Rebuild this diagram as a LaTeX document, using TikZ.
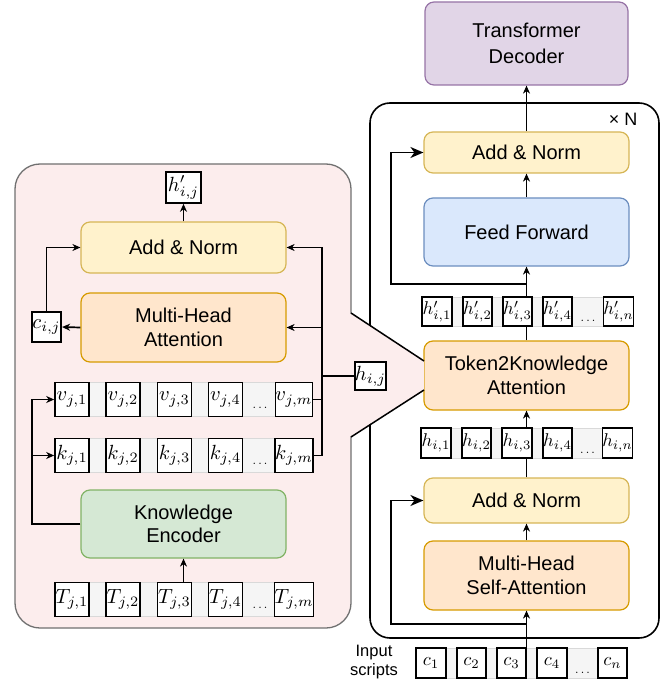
\documentclass[tikz,border=0pt]{standalone}
\usepackage{graphicx}
\usepackage[no-math]{fontspec}
\newfontfamily\arialf{Liberation Sans}
\usetikzlibrary{arrows.meta}
\definecolor{anFill}{HTML}{FFF2CC}\definecolor{anDraw}{HTML}{D6B656}
\definecolor{atFill}{HTML}{FFE6CC}\definecolor{atDraw}{HTML}{D79B00}
\definecolor{ffFill}{HTML}{DAE8FC}\definecolor{ffDraw}{HTML}{6C8EBF}
\definecolor{keFill}{HTML}{D5E8D4}\definecolor{keDraw}{HTML}{82B366}
\definecolor{tdFill}{HTML}{E1D5E7}\definecolor{tdDraw}{HTML}{9673A6}
\definecolor{pinkFill}{RGB}{252,237,237}
\definecolor{panelDraw}{HTML}{707070}
\newcommand\lab{\arialf\fontsize{20}{23.5}\selectfont}
\newcommand\rmc[1]{\scalebox{1.85}{$#1$}}
\newcommand\lmc[1]{\scalebox{2.05}{$#1$}}
\newcommand\dotsm{\scalebox{1.25}{$\ldots$}}
\tikzset{
  blk/.style={rounded corners=9pt, minimum width=205pt, inner sep=0pt, align=center, line width=1.2pt, font=\lab},
  addn/.style={blk, fill=anFill, draw=anDraw},
  attn/.style={blk, fill=atFill, draw=atDraw},
  ffbox/.style={blk, fill=ffFill, draw=ffDraw},
  kebox/.style={blk, fill=keFill, draw=keDraw},
  tdbox/.style={blk, fill=tdFill, draw=tdDraw, minimum width=203pt},
  rcell/.style={draw, fill=white, line width=1.6pt, inner sep=0pt, minimum width=29.5pt, minimum height=29.5pt, font=\normalsize},
  lcell/.style={draw, fill=white, line width=1.6pt, inner sep=0pt, minimum width=34pt, minimum height=34pt, font=\normalsize},
  strip/.style={fill=gray!8, draw=gray!30, line width=1pt},
  dotsnode/.style={inner sep=0pt, font=\normalsize},
  arr/.style={-{Stealth[length=8pt,width=7pt,inset=2.5pt]}, line width=1.7pt},
  bigarr/.style={-{Stealth[length=13pt,width=11pt,inset=4pt]}, line width=1.7pt},
  ln/.style={line width=1.7pt},
}
\begin{document}
\begin{tikzpicture}[x=1pt,y=-1pt]
\useasboundingbox (0,0) rectangle (670,684);

% ---------- right column ----------
\draw[line width=1.6pt, rounded corners=20pt] (370,103) rectangle (659,638);
\node[font=\arialf\fontsize{18}{18}\selectfont] (xN) at (623,119) {× N};

\node[tdbox, minimum height=83pt] (TD) at (526.5,43.5) {Transformer\\[2pt]Decoder};
\node[addn, minimum height=41pt] (rAN1) at (526.5,152.5) {Add \& Norm};
\node[ffbox, minimum height=68pt] (FF) at (526.5,232) {Feed Forward};
\node[attn, minimum height=69pt] (T2K) at (526.5,375.5) {Token2Knowledge\\Attention};
\node[addn, minimum height=45pt] (rAN2) at (526.5,500.5) {Add \& Norm};
\node[attn, minimum height=69pt] (MHSA) at (526.5,575.5) {Multi-Head\\Self-Attention};

\draw[arr] (T2K.north) -- (FF.south);
\draw[bigarr] (FF.south |- 0,284) -- (391,284) |- (rAN1.west);
\draw[arr] (FF.north) -- (rAN1.south);
\draw[arr] (rAN1.north) -- (TD.south);
\draw[arr] (rAN2.north) -- (T2K.south);
\draw[arr] (MHSA.north) -- (rAN2.south);
\draw[bigarr] (MHSA.south |- 0,624) -- (391,624) |- (rAN2.west);

% h' row
\draw[strip] (422,297) rectangle (633,326);
\foreach \i/\x in {1/437,2/477.5,3/517.5,4/557.5}{
  \node[rcell] (hp\i) at (\x,311.5) {\rmc{h'_{i,\i}}};
}
\node[rcell] (hpn) at (618.5,311.5) {\rmc{h'_{i,n}}};
\node[dotsnode] (hpd) at (588,321) {\dotsm};

% h row
\draw[strip] (421,428) rectangle (632,458);
\foreach \i/\x in {1/436,2/476.5,3/517,4/557.5}{
  \node[rcell] (h\i) at (\x,443) {\rmc{h_{i,\i}}};
}
\node[rcell] (hn) at (617.5,443) {\rmc{h_{i,n}}};
\node[dotsnode] (hd) at (587.5,453) {\dotsm};

% c row (input)
\draw[strip] (416,648) rectangle (627,678);
\foreach \i/\x in {1/431,2/471.5,3/511.5,4/552}{
  \node[rcell] (c\i) at (\x,663) {\rmc{c_{\i}}};
}
\node[rcell] (cn) at (612.5,663) {\rmc{c_{n}}};
\node[dotsnode] (cd) at (582.5,673) {\dotsm};
\draw[arr] (MHSA.south |- c3.north) -- (MHSA.south);
\node[align=center, font=\arialf\fontsize{16.5}{19}\selectfont] (inp) at (374,662) {Input\\scripts};

% ---------- left panel ----------
\draw[fill=pinkFill, draw=panelDraw, line width=1.3pt, rounded corners=25pt] (15,164) rectangle (351,628);
\fill[pinkFill] (349.5,313) -- (424,361) -- (424,390) -- (349.5,437) -- cycle;
\draw[line width=1.5pt] (351,313) -- (424,361);
\draw[line width=1.5pt] (351,437) -- (424,390);

\node[addn, minimum height=51pt] (lAN) at (183.5,247.5) {Add \& Norm};
\node[attn, minimum height=69pt] (lMHA) at (183.5,327.5) {Multi-Head\\Attention};
\node[kebox, minimum height=68pt] (KE) at (183.5,524) {Knowledge\\Encoder};

\node[rcell, minimum width=35pt, minimum height=31pt] (hpij) at (183.5,187.5) {\lmc{h'_{i,j}}};
\node[rcell] (cij) at (46.5,327) {\lmc{c_{i,j}}};
\node[rcell, minimum height=28.5pt] (hij) at (370.5,376) {\lmc{h_{i,j}}};

% v row
\draw[strip] (55,382.5) rectangle (311,416.5);
\foreach \i/\x in {1/72,2/123,3/174.5,4/225.5}{
  \node[lcell] (v\i) at (\x,399.5) {\lmc{v_{j,\i}}};
}
\node[lcell] (vm) at (294,399.5) {\lmc{v_{j,m}}};
\node[dotsnode] (vd) at (260,408) {\dotsm};
% k row
\draw[strip] (55,438.5) rectangle (311,472.5);
\foreach \i/\x in {1/72,2/123,3/174.5,4/225.5}{
  \node[lcell] (k\i) at (\x,455.5) {\lmc{k_{j,\i}}};
}
\node[lcell] (km) at (294,455.5) {\lmc{k_{j,m}}};
\node[dotsnode] (kd) at (260,464) {\dotsm};
% T row
\draw[strip] (55,582.5) rectangle (311,616.5);
\foreach \i/\x in {1/72,2/123,3/174.5,4/225.5}{
  \node[lcell] (T\i) at (\x,599.5) {\lmc{T_{j,\i}}};
}
\node[lcell] (Tm) at (294,599.5) {\lmc{T_{j,m}}};
\node[dotsnode] (Td) at (260,608) {\dotsm};

% left connectors
\coordinate (bus) at (322,0);
\coordinate (lbus) at (32,0);
\draw[arr] (lAN.north) -- (hpij.south);
\draw[arr] (lMHA.west) -- (cij.east);
\draw[arr] (cij.north) |- (lAN.west);
\draw[arr] (km.east) -- (bus |- km.east) |- (lAN.east);
\draw[ln] (vm.east) -- (bus |- vm.east);
\draw[arr] (bus |- lMHA.east) -- (lMHA.east);
\draw[ln] (hij.west) -- (bus |- hij.west);
\draw[arr] (KE.west) -- (lbus |- KE.west) |- (v1.west);
\draw[arr] (lbus |- k1.west) -- (k1.west);
\draw[arr] (KE.south |- T3.north) -- (KE.south);
\end{tikzpicture}
\end{document}
